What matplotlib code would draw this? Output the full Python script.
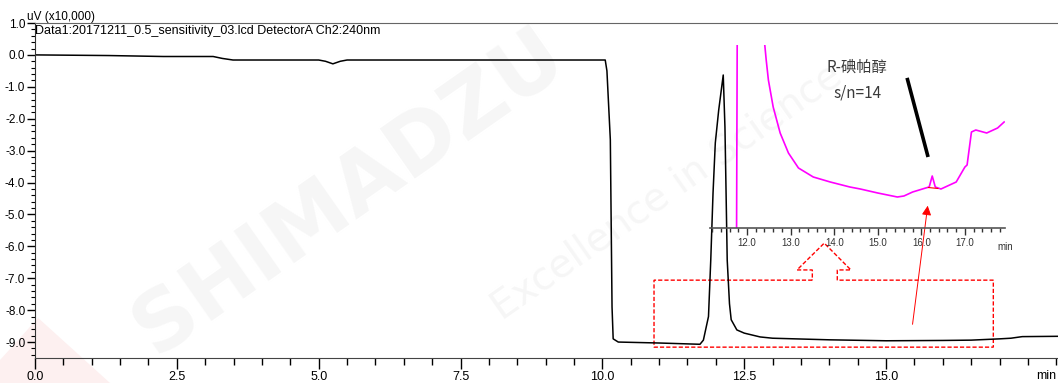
import matplotlib
matplotlib.use("Agg")
import matplotlib.pyplot as plt
from matplotlib.patches import Polygon
from matplotlib.ticker import MultipleLocator
import numpy as np

# main chromatogram (min, uV x10,000)
main_t = [0.0, 1.3, 2.26, 3.14, 3.3, 3.49, 4.5, 5.0, 5.12, 5.25, 5.38, 5.5,
          7.5, 10.05, 10.08, 10.14, 10.17, 10.19, 10.28, 11.0, 11.72, 11.78,
          11.87, 11.91, 11.95, 11.99, 12.05, 12.13, 12.16, 12.18, 12.20, 12.24,
          12.27, 12.37, 12.5, 12.78, 13.0, 14.0, 15.0, 16.0, 16.5, 17.0, 17.2,
          17.4, 18.03]
main_v = [0.0, -0.02, -0.05, -0.05, -0.11, -0.16, -0.16, -0.16, -0.2, -0.28,
          -0.2, -0.16, -0.16, -0.16, -0.5, -2.66, -7.9, -8.9, -9.0, -9.03,
          -9.07, -8.94, -8.2, -6.43, -4.33, -2.76, -1.73, -0.63, -2.26, -4.33,
          -6.43, -7.8, -8.3, -8.62, -8.72, -8.84, -8.88, -8.93, -8.96, -8.95,
          -8.94, -8.9, -8.88, -8.83, -8.82]

# zoomed trace (inset, arbitrary units)
zoom_t = [11.76, 11.78, 12.37, 12.44, 12.49, 12.60, 12.76, 12.95, 13.18,
          13.52, 13.91, 14.36, 14.6, 15.0, 15.45, 15.6, 15.8, 16.1, 16.18,
          16.25, 16.32, 16.45, 16.8, 17.0, 17.05, 17.15, 17.25, 17.5, 17.75,
          17.9]
zoom_v = [0, 260, 200, 168, 148, 121, 95, 75, 60, 51, 46, 41, 39, 35, 31, 32,
          36, 40, 41, 52, 41, 39, 46, 61, 63, 96, 98, 95, 100, 106]
peak_base_t = [16.16, 16.38]
peak_base_v = [40.5, 39.5]

title = "Data1:20171211_0.5_sensitivity_03.lcd DetectorA Ch2:240nm"
compound = "R-碘帕醇"
sn_text = "s/n=14"

latin = ["Liberation Sans", "DejaVu Sans"]
cjk = ["Noto Sans CJK SC", "DejaVu Sans"]

fig = plt.figure(figsize=(10.58, 3.83), dpi=100)

# faint watermark behind everything
fig.patches.append(Polygon([(0, 0), (0, 0.06), (0.036, 0.17), (0.104, 0)],
                           closed=True, transform=fig.transFigure,
                           facecolor="#fdf0f0", edgecolor="none", zorder=-2))
fig.text(0.33, 0.5, "SHIMADZU", fontsize=60, fontweight="bold",
         color="#f6f6f6", rotation=35, ha="center", va="center",
         family="DejaVu Sans", zorder=-1)
fig.text(0.63, 0.5, "Excellence in Science", fontsize=28, color="#f6f6f6",
         rotation=35, ha="center", va="center", family="DejaVu Sans",
         zorder=-1)

ax = fig.add_axes([35 / 1058, 25 / 383, 1 - 35 / 1058, 335 / 383])
ax.patch.set_alpha(0)
ax.plot(main_t, main_v, color="black", lw=1.1)
ax.set_xlim(0, 18.03)
ax.set_ylim(-9.5, 1.0)
ax.spines["right"].set_visible(False)
ax.spines["top"].set_color("#666666")
ax.spines["bottom"].set_color("#444444")
ax.spines["left"].set_color("#333333")
ax.set_xticks([0, 2.5, 5.0, 7.5, 10.0, 12.5, 15.0])
ax.xaxis.set_minor_locator(MultipleLocator(0.5))
ax.yaxis.set_minor_locator(MultipleLocator(0.2))
ax.set_yticks(np.arange(-9, 1.01, 1.0))
ax.set_xticklabels(["0.0", "2.5", "5.0", "7.5", "10.0", "12.5", "15.0"],
                   family=latin, fontsize=9)
ax.set_yticklabels([f"{v:.1f}" for v in np.arange(-9, 1.01, 1.0)],
                   family=latin, fontsize=8.5)
ax.tick_params(axis="x", which="major", length=8, width=1, pad=1.5)
ax.tick_params(axis="x", which="minor", length=5, width=1)
ax.tick_params(axis="y", which="major", length=6, width=1, pad=1)
ax.tick_params(axis="y", which="minor", length=3, width=0.8)
ax.text(17.82, -9.88, "min", family=latin, fontsize=9, ha="center",
        va="top")
ax.text(0.0, 0.995, title, transform=ax.transAxes, family=latin,
        fontsize=9, va="top", ha="left")
fig.text(27 / 1058, 1 - 20 / 383, "uV (x10,000)", family=latin, fontsize=8.5,
         va="baseline", ha="left")

# zoom callout (dashed box with arrow)
callout = [(13.70, -7.06), (10.91, -7.06), (10.91, -9.16), (16.89, -9.16),
           (16.89, -7.06), (14.14, -7.06), (14.14, -6.74), (14.38, -6.74),
           (13.91, -5.9), (13.43, -6.74), (13.70, -6.74)]
ax.add_patch(Polygon(callout, closed=True, fill=False, edgecolor="red",
                     lw=1.0, ls=(0, (3, 1.5))))
ax.annotate("", xy=(15.74, -4.64), xytext=(15.46, -8.53),
            arrowprops=dict(arrowstyle="-|>", color="red", lw=0.7,
                            mutation_scale=14))
ax.plot([15.37, 15.74], [-0.72, -3.2], color="black", lw=2.6,
        solid_capstyle="butt")
ax.text(14.49, -0.38, compound, family=cjk, fontsize=11, color="#3a3a3a",
        ha="center", va="center")
ax.text(14.49, -1.18, sn_text, family=cjk, fontsize=11, color="#3a3a3a",
        ha="center", va="center")

# inset with magnified trace
ins = fig.add_axes([710 / 1058, 1 - 228 / 383, 295 / 1058, 183 / 383])
ins.patch.set_alpha(0)
ins.plot(zoom_t, zoom_v, color="#ff00ff", lw=1.2)
ins.plot(peak_base_t, peak_base_v, color="red", lw=0.8)
ins.set_xlim(11.15, 17.92)
ins.set_ylim(0, 183)
for s in ["top", "right", "left"]:
    ins.spines[s].set_visible(False)
ins.spines["bottom"].set_color("#555555")
ins.spines["bottom"].set_linewidth(1.2)
ins.set_yticks([])
ins.set_xticks([12, 13, 14, 15, 16, 17])
ins.set_xticklabels(["12.0", "13.0", "14.0", "15.0", "16.0", "17.0"],
                    family=latin, fontsize=7, color="#333333")
ins.xaxis.set_minor_locator(MultipleLocator(0.2))
ins.tick_params(axis="x", which="major", length=5, width=1, pad=2,
                color="#333333")
ins.tick_params(axis="x", which="minor", length=3, width=1, color="#333333")
ins.text(17.92, -14, "min", family=latin, fontsize=7, color="#333333",
         ha="center", va="top", clip_on=False)

fig.savefig("out.png", dpi=100)
